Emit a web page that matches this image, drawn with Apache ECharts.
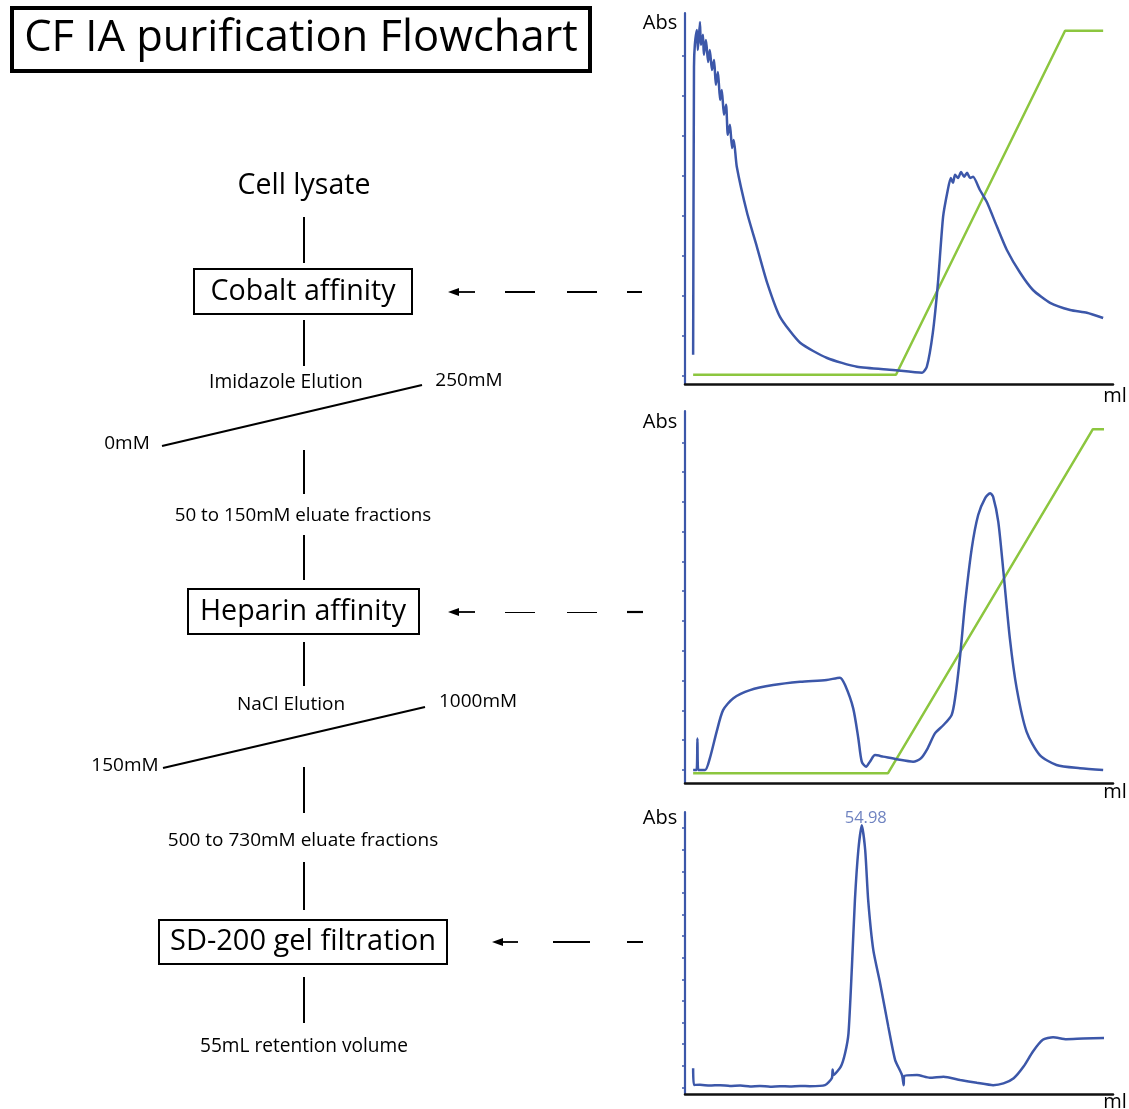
<!DOCTYPE html>
<html>
<head>
<meta charset="utf-8">
<script src="https://cdn.jsdelivr.net/npm/echarts@6/dist/echarts.min.js"></script>
<style>
html,body{margin:0;padding:0;background:#fff;}
#chart{width:1129px;height:1109px;}
</style>
</head>
<body>
<div id="chart"></div>
<script>
// ---------- DATA ----------
const titleText = 'CF IA purification Flowchart';
const startLabel = 'Cell lysate';
const stepNames = ['Cobalt affinity', 'Heparin affinity', 'SD-200 gel filtration'];
const elutionNames = ['Imidazole Elution', 'NaCl Elution'];
const gradientStart = ['0mM', '150mM'];
const gradientEnd = ['250mM', '1000mM'];
const fractionNotes = ['50 to 150mM eluate fractions', '500 to 730mM eluate fractions', '55mL retention volume'];
const yAxisName = 'Abs';
const xAxisName = 'ml';

// Cobalt affinity chromatogram [ml, Abs]
const cobaltUV = [[1.9,0.53],[2.1,7.73],[2.3,8.28],[2.8,8.65],[3.0,8.15],[3.5,8.85],[3.7,8.28],[4.2,8.53],[4.4,8.03],[4.9,8.4],[5.4,7.85],[5.8,8.15],[6.3,7.65],[6.8,7.9],[7.2,7.28],[7.7,7.6],[8.2,6.9],[8.6,7.15],[9.1,6.53],[9.6,6.78],[10.0,6.03],[10.5,6.28],[11.0,5.7],[11.4,5.9],[12.1,5.23],[14.5,4.08],[16.8,3.23],[19.2,2.33],[22.2,1.48],[26.9,0.83],[33.2,0.45],[40.2,0.23],[48.6,0.15],[55.4,0.08],[56.5,0.23],[57.9,1.08],[59.1,2.33],[60.3,3.98],[61.4,4.65],[62.1,4.95],[62.6,4.83],[63.1,5.03],[63.8,4.95],[64.5,5.1],[65.2,4.98],[65.9,5.08],[66.6,4.95],[67.3,4.98],[68.9,4.65],[70.6,4.33],[72.9,3.73],[75.2,3.15],[78.3,2.58],[81.3,2.15],[85.3,1.83],[90.0,1.65],[93.9,1.58],[97.7,1.45]];
const cobaltGradient = [[1.9,0.03],[49.3,0.03],[88.8,8.63],[97.7,8.63]];
const cobaltTicks = [0,1,2,3,4,5,6,7,8];

// Heparin affinity chromatogram
const heparinUV = [[1.9,0],[2.7,0],[2.9,1.06],[3.1,0],[4.7,0],[5.8,0.39],[7.4,1.29],[8.9,2.01],[11.3,2.41],[15.2,2.68],[20.6,2.85],[26.9,2.96],[33.1,3.02],[36.2,3.1],[37.4,2.85],[39.3,2.07],[40.5,1.06],[41.3,0.28],[42.3,0.11],[43.2,0.28],[44.4,0.5],[46.3,0.45],[49.5,0.36],[53.3,0.28],[55.1,0.39],[56.7,0.73],[58.4,1.23],[60.4,1.51],[62.3,1.85],[63.1,2.41],[64.3,3.86],[65.4,5.54],[67.0,7.44],[68.5,8.56],[70.1,9.12],[71.3,9.29],[72.0,9.17],[73.2,8.33],[74.4,6.65],[75.9,4.42],[77.5,2.74],[79.8,1.29],[82.9,0.5],[86.8,0.17],[92.3,0.06],[97.7,0]];
const heparinGradient = [[1.9,-0.11],[47.4,-0.11],[95.3,11.44],[97.9,11.44]];
const heparinTicks = [0,1,2,3,4,5,6,7,8,9,10,11];

// SD-200 gel filtration chromatogram
const sdUV = [[1.9,0.88],[2.1,0.11],[3.5,0.12],[5.8,0.08],[8.2,0.1],[10.5,0.06],[12.9,0.08],[15.2,0.04],[17.5,0.06],[19.9,0.03],[22.2,0.05],[24.5,0.04],[26.9,0.06],[29.2,0.05],[32.7,0.1],[34.3,0.42],[34.5,0.83],[34.7,0.57],[36.4,0.96],[37.4,1.58],[38.2,2.5],[39.0,5.59],[39.7,8.67],[40.5,10.99],[41.3,12.14],[42.1,10.99],[42.8,8.67],[44.0,6.35],[45.6,4.81],[47.5,2.81],[49.1,1.26],[50.7,0.57],[51.1,0.10],[51.2,0.52],[54.2,0.57],[57.2,0.44],[60.4,0.49],[64.3,0.34],[68.2,0.21],[72.0,0.1],[74.4,0.18],[76.8,0.42],[79.1,0.96],[81.3,1.66],[83.6,2.2],[86.0,2.32],[89.1,2.23],[93.0,2.26],[97.9,2.28]];
const sdTicks = [0,1,2,3,4,5,6,7,8,9,10,11,12];
const sdPeak = [41.3, 12.14];
const sdPeakLabel = '54.98';

// ---------- STYLE / LAYOUT ----------
const BLUE = '#3c57a9';
const GREEN = '#8cc63f';
const FONT = '"Open Sans", "Noto Sans", sans-serif';

const grids = [
  {left:685, top:13, width:428, height:371, ymin:-0.2, ymax:9.075},
  {left:685, top:411, width:428, height:372, ymin:-0.436, ymax:12.05},
  {left:685, top:812, width:428, height:282, ymin:-0.31, ymax:12.75}
];
const tickSets = [cobaltTicks, heparinTicks, sdTicks];

const xAxes = grids.map((g,i)=>({
  type:'value', gridIndex:i, min:0, max:100,
  axisLine:{show:true, onZero:false, lineStyle:{color:'#111', width:2.5}},
  axisTick:{show:false}, axisLabel:{show:false}, splitLine:{show:false}
}));
const yAxes = grids.map((g,i)=>({
  type:'value', gridIndex:i, min:g.ymin, max:g.ymax,
  axisLine:{show:true, onZero:false, lineStyle:{color:BLUE, width:2.2}},
  axisTick:{show:true, length:3, customValues:tickSets[i], lineStyle:{color:BLUE, width:1.5}},
  axisLabel:{show:false}, splitLine:{show:false}
}));

function lineSeries(data, idx, color, smooth){
  return {type:'line', xAxisIndex:idx, yAxisIndex:idx, data:data, showSymbol:false, symbol:'none',
    smooth:smooth||false,
    lineStyle:{color:color, width:2.5}, itemStyle:{color:color}, silent:true, animation:false, z:color===BLUE?3:2};
}

const series = [
  lineSeries(cobaltGradient,0,GREEN),
  lineSeries(cobaltUV,0,BLUE,0.2),
  lineSeries(heparinGradient,1,GREEN),
  lineSeries(heparinUV,1,BLUE,0.25),
  lineSeries(sdUV,2,BLUE,0.2),
  {type:'scatter', xAxisIndex:2, yAxisIndex:2, data:[sdPeak], symbolSize:1,
   itemStyle:{color:'rgba(0,0,0,0)'}, animation:false, silent:true,
   label:{show:true, position:'top', distance:0, offset:[4,2], formatter:sdPeakLabel,
     color:'#4a63b0', fontFamily:FONT, fontSize:16.5}}
];

// ---------- GRAPHIC (flowchart) ----------
const G = [];
function txt(t,x,y,size,opts){
  opts = opts||{};
  G.push({type:'text', silent:true,
    style:{text:t, x:x, y:y, fill:opts.color||'#000', font: (size)+'px '+FONT,
      textAlign:opts.align||'center', textVerticalAlign:'middle', verticalAlign:'middle'}});
}
function ln(x1,y1,x2,y2,w){
  G.push({type:'line', silent:true, shape:{x1:x1,y1:y1,x2:x2,y2:y2}, style:{stroke:'#000', lineWidth:w||2}});
}
function box(x,y,w,h,lw){
  G.push({type:'rect', silent:true, shape:{x:x,y:y,width:w,height:h}, style:{fill:'#fff', stroke:'#000', lineWidth:lw||2}});
}
function arrow(x1,x2,y){
  G.push({type:'polygon', silent:true, shape:{points:[[x1,y],[x1+11,y-4],[x1+11,y+4]]}, style:{fill:'#000'}});
  ln(x1+8,y,x2,y,1.8);
}

// title
box(12,8,578,63,4);
txt(titleText,301,39,43.5);
// start
txt(startLabel,304,186,28.5);
ln(304,217,304,263,2);
// step 1
box(194,269,218,45,2);
txt(stepNames[0],303,292,28.6);
ln(304,320,304,366,2);
txt(elutionNames[0],286,383,19.2);
txt(gradientEnd[0],469,381,19);
ln(162,446,422,385,2.2);
txt(gradientStart[0],127,444,19);
ln(304,450,304,494,2);
txt(fractionNotes[0],303,516,18.8);
ln(304,535,304,580,2);
// step 2
box(188,589,231,45,2);
txt(stepNames[1],303,612,28.6);
ln(304,642,304,686,2);
txt(elutionNames[1],291,705,19);
txt(gradientEnd[1],478,702,19);
ln(163,768,425,707,2.2);
txt(gradientStart[1],125,766,19);
ln(304,767,304,813,2);
txt(fractionNotes[1],303,841,19);
ln(304,862,304,910,2);
// step 3
box(159,920,288,44,2);
txt(stepNames[2],303,942,29);
ln(304,977,304,1023,2);
txt(fractionNotes[2],304,1047,19.1);

// arrows from charts
arrow(448,475,292);
ln(505,292,535,292,2); ln(567,292,597,292,2); ln(627,292,642,292,2);
arrow(448,475,612);
ln(505,612.5,535,612.5,1); ln(567,612.5,597,612.5,1); ln(627,612,643,612,2.2);
arrow(492,518,942);
ln(553,942,590,942,2); ln(627,942,643,942,2);

// axis names
[[660,23],[660,422],[660,818]].forEach(p=>txt(yAxisName,p[0],p[1],20));
[[1115,396],[1115,792],[1115,1102]].forEach(p=>txt(xAxisName,p[0],p[1],20));

// ---------- CHART ----------
const chart = echarts.init(document.getElementById('chart'), null, {renderer:'canvas'});
chart.setOption({
  animation:false,
  backgroundColor:'#fff',
  grid: grids.map(g=>({left:g.left, top:g.top, width:g.width, height:g.height, containLabel:false})),
  xAxis: xAxes,
  yAxis: yAxes,
  series: series,
  graphic: G
});
</script>
</body>
</html>
